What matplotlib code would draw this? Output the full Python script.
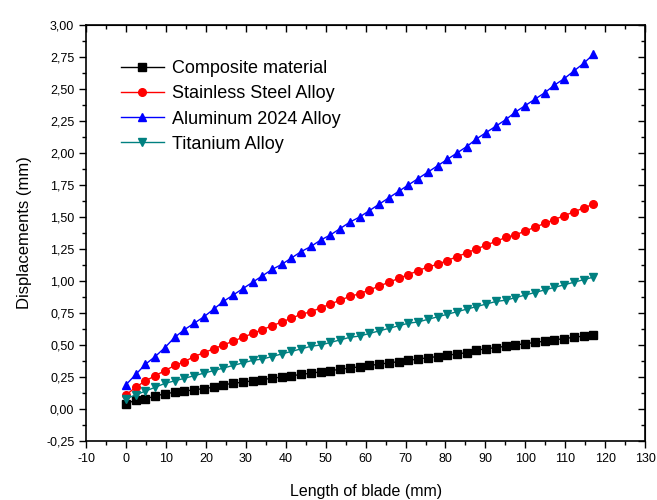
import numpy as np
import matplotlib
matplotlib.use('Agg')
import matplotlib.pyplot as plt
from matplotlib.ticker import MultipleLocator, FuncFormatter

plt.rcParams['font.family'] = ['Liberation Sans', 'DejaVu Sans']
plt.rcParams['axes.unicode_minus'] = False

# blade length grid (mm), 49 samples from 0 to 117
length = np.linspace(0, 117, 49)

composite = [0.04, 0.07, 0.08, 0.10, 0.12, 0.13, 0.14, 0.15, 0.16, 0.17,
             0.19, 0.20, 0.21, 0.22, 0.23, 0.24, 0.25, 0.26, 0.27, 0.28,
             0.29, 0.30, 0.31, 0.32, 0.33, 0.34, 0.35, 0.36, 0.37, 0.38,
             0.39, 0.40, 0.41, 0.42, 0.43, 0.44, 0.46, 0.47, 0.48, 0.49,
             0.50, 0.51, 0.52, 0.53, 0.54, 0.55, 0.56, 0.57, 0.58]
stainless = [0.11, 0.17, 0.22, 0.26, 0.30, 0.34, 0.37, 0.41, 0.44, 0.47,
             0.50, 0.53, 0.56, 0.59, 0.62, 0.65, 0.68, 0.71, 0.74, 0.76,
             0.79, 0.82, 0.85, 0.88, 0.90, 0.93, 0.96, 0.99, 1.02, 1.05,
             1.08, 1.11, 1.13, 1.16, 1.19, 1.22, 1.25, 1.28, 1.31, 1.34,
             1.36, 1.39, 1.42, 1.45, 1.48, 1.51, 1.54, 1.57, 1.60]
aluminum = [0.19, 0.27, 0.35, 0.41, 0.48, 0.56, 0.62, 0.67, 0.72, 0.78,
            0.84, 0.89, 0.94, 0.99, 1.04, 1.09, 1.13, 1.18, 1.23, 1.27,
            1.32, 1.36, 1.41, 1.46, 1.50, 1.55, 1.60, 1.65, 1.70, 1.75,
            1.80, 1.85, 1.90, 1.95, 2.00, 2.05, 2.11, 2.16, 2.21, 2.26,
            2.32, 2.37, 2.42, 2.47, 2.53, 2.58, 2.64, 2.70, 2.77]
titanium = [0.08, 0.11, 0.14, 0.17, 0.20, 0.22, 0.24, 0.26, 0.28, 0.30,
            0.32, 0.34, 0.36, 0.38, 0.39, 0.41, 0.43, 0.45, 0.47, 0.49,
            0.50, 0.52, 0.54, 0.56, 0.57, 0.59, 0.61, 0.63, 0.65, 0.67,
            0.68, 0.70, 0.72, 0.74, 0.76, 0.78, 0.80, 0.82, 0.84, 0.85,
            0.87, 0.89, 0.91, 0.93, 0.95, 0.97, 0.99, 1.01, 1.03]

series = [
    ('Composite material', composite, 'black', 's'),
    ('Stainless Steel Alloy', stainless, 'red', 'o'),
    ('Aluminum 2024 Alloy', aluminum, 'blue', '^'),
    ('Titanium Alloy', titanium, '#008080', 'v'),
]

fig = plt.figure(figsize=(6.57, 5.0), dpi=100)
ax = fig.add_axes([0.131, 0.118, 0.851, 0.832])

for label, vals, color, marker in series:
    ax.plot(length, vals, color=color, marker=marker, markersize=5.5,
            linewidth=1, label=label)

ax.set_xlim(-10, 130)
ax.set_ylim(-0.25, 3.0)
ax.xaxis.set_major_locator(MultipleLocator(10))
ax.xaxis.set_minor_locator(MultipleLocator(5))
ax.yaxis.set_major_locator(MultipleLocator(0.25))
ax.yaxis.set_minor_locator(MultipleLocator(0.125))
ax.yaxis.set_major_formatter(FuncFormatter(lambda v, p: f'{v:.2f}'.replace('.', ',')))
ax.tick_params(which='major', direction='out', length=5, width=1, labelsize=9)
ax.tick_params(which='minor', direction='out', length=3, width=1)
for sp in ax.spines.values():
    sp.set_linewidth(1.2)

# top and right ticks point inward
top = ax.secondary_xaxis('top')
top.xaxis.set_major_locator(MultipleLocator(10))
top.xaxis.set_minor_locator(MultipleLocator(5))
top.tick_params(which='major', direction='in', length=5, width=1, labeltop=False)
top.tick_params(which='minor', direction='in', length=3, width=1)
right = ax.secondary_yaxis('right')
right.yaxis.set_major_locator(MultipleLocator(0.25))
right.yaxis.set_minor_locator(MultipleLocator(0.125))
right.tick_params(which='major', direction='in', length=5, width=1, labelright=False)
right.tick_params(which='minor', direction='in', length=3, width=1)

ax.set_xlabel('Length of blade (mm)', fontsize=11.5, labelpad=14)
ax.set_ylabel('Displacements (mm)', fontsize=12, labelpad=10)

ax.legend(loc='upper left', bbox_to_anchor=(0.062, 0.915), frameon=False,
          fontsize=13, handlelength=2.4, handletextpad=0.45, labelspacing=0.45,
          borderaxespad=0, borderpad=0)

fig.savefig('out.png', dpi=100)
